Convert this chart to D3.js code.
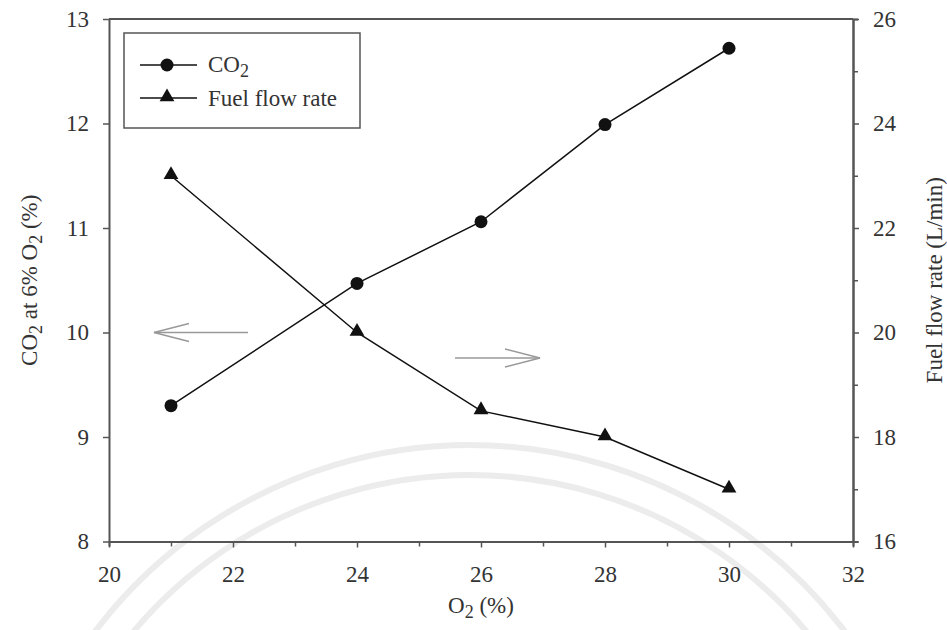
<!DOCTYPE html>
<html>
<head>
<meta charset="utf-8">
<script src="https://cdn.jsdelivr.net/npm/d3@7"></script>
<style>
  body { margin: 0; background: #fff; }
</style>
</head>
<body>
<div id="chart"></div>
<script>
// data
const o2 = [21, 24, 26, 28, 30];
const co2 = [9.3, 10.47, 11.06, 11.99, 12.72];
const fuel = [23, 20, 18.5, 18, 17];
const xTicks = [20, 22, 24, 26, 28, 30, 32];
const leftTicks = [8, 9, 10, 11, 12, 13];
const rightTicks = [16, 18, 20, 22, 24, 26];

const W = 947, H = 630;
const m = { left: 109, right: 853, top: 19, bottom: 541.5 };
const FONT = '"Liberation Serif", serif';
const FS = 23, SUB = 18;

const svg = d3.select("#chart").append("svg")
  .attr("width", W).attr("height", H)
  .attr("font-family", FONT);

// faint watermark arcs in the background
const wm = svg.append("g").attr("fill", "none").attr("stroke", "#ececec").attr("stroke-width", 6);
[470, 440].forEach(r => {
  wm.append("path").attr("d", d3.arc()({ innerRadius: r, outerRadius: r, startAngle: -1.2, endAngle: 1.2 }))
    .attr("transform", "translate(470,915)");
});

const x = d3.scaleLinear().domain([20, 32]).range([m.left, m.right]);
const yL = d3.scaleLinear().domain([8, 13]).range([m.bottom, m.top]);
const yR = d3.scaleLinear().domain([16, 26]).range([m.bottom, m.top]);

const axisCol = "#555";
function styleAxis(g) {
  g.attr("font-family", null).attr("font-size", null);
  g.select(".domain").attr("stroke", axisCol).attr("stroke-width", 2);
  g.selectAll(".tick line").attr("stroke", axisCol).attr("stroke-width", 1.5);
  g.selectAll(".tick text").attr("fill", "#333")
    .style("font-family", FONT).style("font-size", FS + "px");
}

// bottom axis, major + minor
svg.append("g").attr("transform", `translate(0,${m.bottom})`)
  .call(d3.axisBottom(x).tickValues(d3.range(21, 32, 2)).tickSize(5).tickFormat(""))
  .call(styleAxis);
svg.append("g").attr("transform", `translate(0,${m.bottom})`)
  .call(d3.axisBottom(x).tickValues(xTicks).tickFormat(d3.format("d")).tickSize(6).tickPadding(18).tickSizeOuter(0))
  .call(styleAxis);

// left axis
svg.append("g").attr("transform", `translate(${m.left},0)`)
  .call(d3.axisLeft(yL).tickValues(leftTicks).tickFormat(d3.format("d")).tickSize(6).tickPadding(14).tickSizeOuter(0))
  .call(styleAxis);

// right axis
svg.append("g").attr("transform", `translate(${m.right},0)`)
  .call(d3.axisRight(yR).tickValues(d3.range(17, 26, 2)).tickSize(5).tickFormat(""))
  .call(styleAxis);
svg.append("g").attr("transform", `translate(${m.right},0)`)
  .call(d3.axisRight(yR).tickValues(rightTicks).tickFormat(d3.format("d")).tickSize(6).tickPadding(14).tickSizeOuter(0))
  .call(styleAxis);

// top frame line
svg.append("line").attr("x1", m.left).attr("x2", m.right).attr("y1", m.top).attr("y2", m.top)
  .attr("stroke", axisCol).attr("stroke-width", 2);

// CO2 series
const lineL = d3.line().x((d, i) => x(o2[i])).y(d => yL(d));
svg.append("path").datum(co2).attr("d", lineL)
  .attr("fill", "none").attr("stroke", "#111").attr("stroke-width", 1.5);
svg.selectAll(".co2").data(co2).enter().append("circle")
  .attr("cx", (d, i) => x(o2[i])).attr("cy", d => yL(d)).attr("r", 6.5).attr("fill", "#111");

// Fuel series
const lineR = d3.line().x((d, i) => x(o2[i])).y(d => yR(d));
svg.append("path").datum(fuel).attr("d", lineR)
  .attr("fill", "none").attr("stroke", "#111").attr("stroke-width", 1.5);
const tri = d3.symbol().type(d3.symbolTriangle).size(95);
svg.selectAll(".fuel").data(fuel).enter().append("path")
  .attr("d", tri).attr("fill", "#111")
  .attr("transform", (d, i) => `translate(${x(o2[i])},${yR(d) - 1})`);

// arrows pointing to axes
const arrowCol = "#999";
function arrow(x1, x2, y) {
  const dir = Math.sign(x2 - x1);
  const g = svg.append("g").attr("stroke", arrowCol).attr("stroke-width", 1.5).attr("fill", "none");
  g.append("line").attr("x1", x1).attr("x2", x2).attr("y1", y).attr("y2", y);
  g.append("path").attr("d", `M${x2 - dir * 35},${y - 9}L${x2},${y}L${x2 - dir * 35},${y + 9}`);
}
arrow(248, 154, yL(10));
arrow(455, 540, 358);

// legend
const lg = svg.append("g");
lg.append("rect").attr("x", 124).attr("y", 33).attr("width", 236).attr("height", 95)
  .attr("fill", "#fff").attr("stroke", axisCol).attr("stroke-width", 1.5);
[65, 98].forEach((ly, k) => {
  lg.append("line").attr("x1", 140).attr("x2", 197).attr("y1", ly).attr("y2", ly)
    .attr("stroke", "#111").attr("stroke-width", 1.5);
  if (k === 0) lg.append("circle").attr("cx", 167).attr("cy", ly).attr("r", 6.5).attr("fill", "#111");
  else lg.append("path").attr("d", tri).attr("fill", "#111").attr("transform", `translate(167,${ly - 1})`);
});
const t1 = lg.append("text").attr("x", 208).attr("y", 72).attr("font-size", FS).attr("fill", "#333");
t1.append("tspan").text("CO");
t1.append("tspan").attr("dy", 5).attr("font-size", SUB).text("2");
lg.append("text").attr("x", 208).attr("y", 106).attr("font-size", FS).attr("fill", "#333").text("Fuel flow rate");

// axis titles
const xt = svg.append("text").attr("x", 481).attr("y", 613).attr("text-anchor", "middle")
  .attr("font-size", FS).attr("fill", "#333");
xt.append("tspan").text("O");
xt.append("tspan").attr("dy", 5).attr("font-size", SUB).text("2");
xt.append("tspan").attr("dy", -5).text(" (%)");

const yt = svg.append("text").attr("transform", `translate(37,${(m.top + m.bottom) / 2}) rotate(-90)`)
  .attr("text-anchor", "middle").attr("font-size", FS).attr("fill", "#333");
yt.append("tspan").text("CO");
yt.append("tspan").attr("dy", 5).attr("font-size", SUB).text("2");
yt.append("tspan").attr("dy", -5).text(" at 6% O");
yt.append("tspan").attr("dy", 5).attr("font-size", SUB).text("2");
yt.append("tspan").attr("dy", -5).text(" (%)");

svg.append("text").attr("transform", `translate(942,${(m.top + m.bottom) / 2}) rotate(-90)`)
  .attr("text-anchor", "middle").attr("font-size", FS).attr("fill", "#333").text("Fuel flow rate (L/min)");
</script>
</body>
</html>
